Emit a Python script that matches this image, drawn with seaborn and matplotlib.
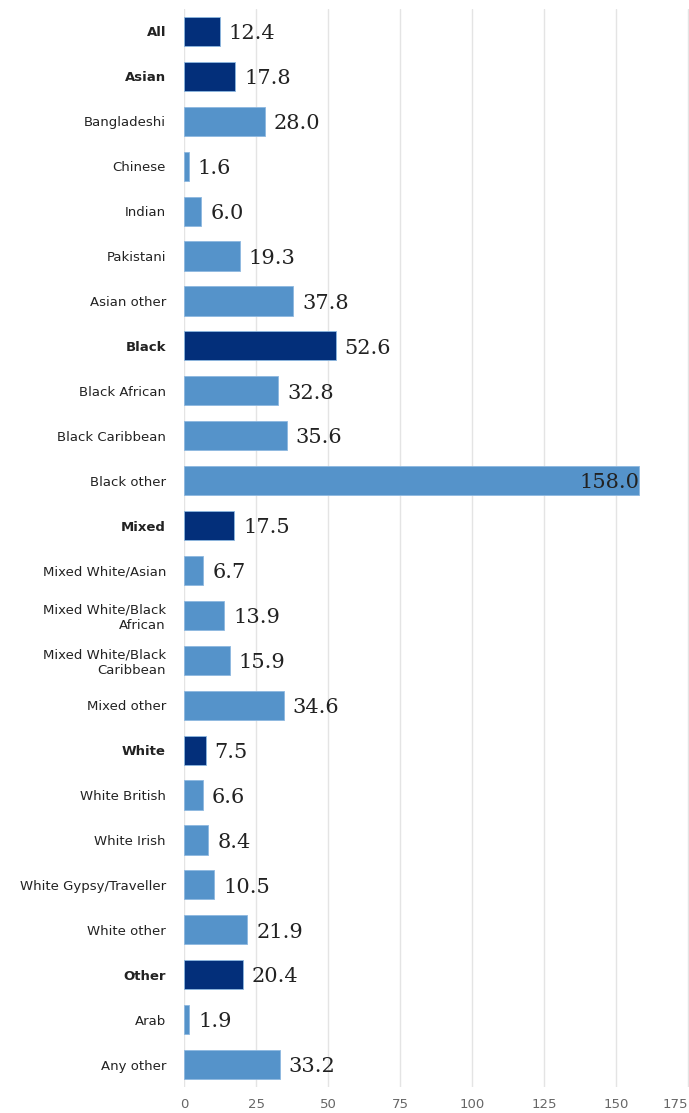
import matplotlib
matplotlib.use("Agg")
import matplotlib.pyplot as plt
import pandas as pd
import seaborn as sns

categories = ["All", "Asian", "Bangladeshi", "Chinese", "Indian", "Pakistani", "Asian other",
              "Black", "Black African", "Black Caribbean", "Black other",
              "Mixed", "Mixed White/Asian", "Mixed White/Black\nAfrican",
              "Mixed White/Black\nCaribbean", "Mixed other",
              "White", "White British", "White Irish", "White Gypsy/Traveller", "White other",
              "Other", "Arab", "Any other"]
values = [12.4, 17.8, 28.0, 1.6, 6.0, 19.3, 37.8,
          52.6, 32.8, 35.6, 158.0,
          17.5, 6.7, 13.9, 15.9, 34.6,
          7.5, 6.6, 8.4, 10.5, 21.9,
          20.4, 1.9, 33.2]
groups = ["All", "Asian", "Black", "Mixed", "White", "Other"]

df = pd.DataFrame({"category": categories, "value": values})
df["kind"] = ["group" if c in groups else "sub" for c in categories]

sns.set_style("white")
fig = plt.figure(figsize=(6.89, 11.13), dpi=100)
ax = fig.add_axes([184 / 689, 1 - 1087 / 1113, 505 / 689, 1078 / 1113])

sns.barplot(data=df, x="value", y="category", hue="kind", order=categories,
            palette={"group": "#032f7a", "sub": "#5593ca"}, saturation=1, dodge=False,
            legend=False, width=0.65, ax=ax, edgecolor="#8db8e0", linewidth=0.6)

ax.set_xlim(0, 175.3)
ax.set_ylim(23.5, -0.5)
ax.set_xticks(range(0, 176, 25))
ax.grid(axis="x", color="#e4e4e4", linewidth=1)
ax.set_axisbelow(True)
for s in ax.spines.values():
    s.set_visible(False)
ax.axvline(0, color="#c9d9ee", linewidth=1.2, zorder=0.5)
ax.set_xlabel("")
ax.set_ylabel("")
ax.tick_params(axis="x", length=0, pad=8, labelsize=9.5, labelcolor="#666666")
ax.tick_params(axis="y", length=0, pad=13, labelsize=9.5, labelcolor="#222222")
ax.get_xticklabels()[-1].set_horizontalalignment("right")
for lab in ax.get_yticklabels():
    lab.set_horizontalalignment("right")
    if lab.get_text() in groups:
        lab.set_fontweight("bold")

for i, v in enumerate(values):
    if v > 150:
        ax.text(v, i + 0.05, f"{v:.1f}", ha="right", va="center",
                family="DejaVu Serif", fontsize=15, color="#222222")
    else:
        ax.annotate(f"{v:.1f}", (v, i + 0.05), xytext=(6.5, 0), textcoords="offset points",
                    ha="left", va="center", family="DejaVu Serif", fontsize=15,
                    color="#222222")

fig.savefig("out.png", dpi=100, facecolor="white")
